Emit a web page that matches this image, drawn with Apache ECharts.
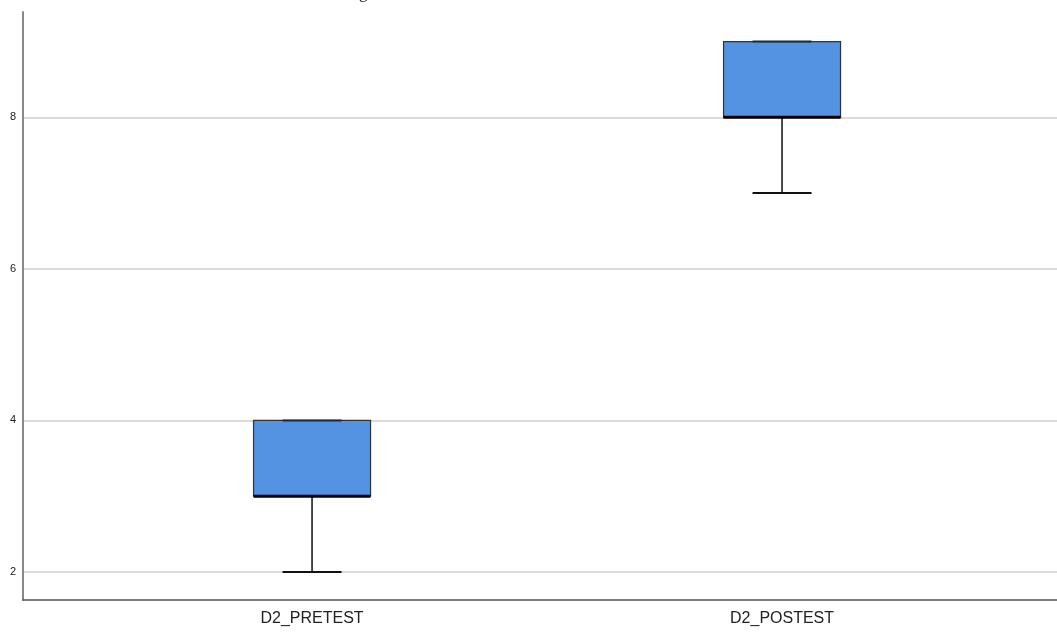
<!DOCTYPE html>
<html>
<head>
<meta charset="utf-8">
<script src="https://cdn.jsdelivr.net/npm/echarts@6/dist/echarts.min.js"></script>
<style>html,body{margin:0;padding:0;background:#fff;}#c{width:1057px;height:632px;}</style>
</head>
<body>
<div id="c"></div>
<script>
var categories = ['D2_PRETEST', 'D2_POSTEST'];
var mins = [2, 7];
var q1s = [3, 8];
var medians = [3, 8];
var q3s = [4, 9];
var maxs = [4, 9];
var yTicks = [2, 4, 6, 8];

var data = categories.map(function (c, i) {
  return [i + 1, mins[i], q1s[i], medians[i], q3s[i], maxs[i]];
});

var chart = echarts.init(document.getElementById('c'));
chart.setOption({
  animation: false,
  backgroundColor: '#fff',
  grid: { left: 23, right: 0, top: 12, bottom: 32 },
  graphic: [{
    type: 'text', left: 359, top: -15,
    style: { text: 'g', font: '17px "Liberation Serif"', fill: '#222' }
  }],
  xAxis: {
    type: 'value', min: 0.385, max: 2.585,
    axisLine: { show: true, lineStyle: { color: '#555', width: 1.5 } },
    axisTick: { show: false },
    splitLine: { show: false },
    axisLabel: {
      customValues: [1, 2],
      margin: 11,
      fontFamily: 'Liberation Sans', fontSize: 16, color: '#222',
      formatter: function (v) { return categories[Math.round(v) - 1] || ''; }
    }
  },
  yAxis: {
    type: 'value', min: 1.63, max: 9.39,
    axisLine: { show: true, lineStyle: { color: '#888', width: 2 } },
    axisTick: { show: false },
    splitLine: { show: false },
    axisLabel: {
      customValues: yTicks,
      margin: 7,
      fontFamily: 'Liberation Sans', fontSize: 11, color: '#222'
    }
  },
  series: [{
    type: 'custom',
    encode: { x: 0, y: [1, 2, 3, 4, 5] },
    data: data,
    markLine: {
      silent: true, symbol: 'none',
      label: { show: false },
      lineStyle: { color: '#cfcfcf', width: 1.5, type: 'solid' },
      data: yTicks.map(function (v) { return { yAxis: v }; }),
      z: 0
    },
    z: 5,
    renderItem: function (params, api) {
      var x = api.value(0);
      var pMin = api.coord([x, api.value(1)]);
      var pQ1 = api.coord([x, api.value(2)]);
      var pMed = api.coord([x, api.value(3)]);
      var pQ3 = api.coord([x, api.value(4)]);
      var pMax = api.coord([x, api.value(5)]);
      var cx = pMin[0];
      var bw = 117, cw = 59;
      var wl = { stroke: '#111', lineWidth: 1.5 };
      return {
        type: 'group',
        children: [
          { type: 'line', shape: { x1: cx, y1: pQ1[1], x2: cx, y2: pMin[1] }, style: wl },
          { type: 'line', shape: { x1: cx, y1: pQ3[1], x2: cx, y2: pMax[1] }, style: wl },
          { type: 'line', shape: { x1: cx - cw / 2, y1: pMin[1], x2: cx + cw / 2, y2: pMin[1] }, style: { stroke: '#111', lineWidth: 2 } },
          { type: 'rect', shape: { x: cx - bw / 2, y: pQ3[1], width: bw, height: pQ1[1] - pQ3[1] },
            style: { fill: '#5393e2', stroke: '#333', lineWidth: 1.2 } },
          { type: 'line', shape: { x1: cx - cw / 2, y1: pMax[1], x2: cx + cw / 2, y2: pMax[1] }, style: { stroke: '#1a2a40', lineWidth: 2 } },
          { type: 'line', shape: { x1: cx - bw / 2, y1: pMed[1], x2: cx + bw / 2, y2: pMed[1] }, style: { stroke: '#000', lineWidth: 3 } }
        ]
      };
    }
  }]
});
</script>
</body>
</html>
